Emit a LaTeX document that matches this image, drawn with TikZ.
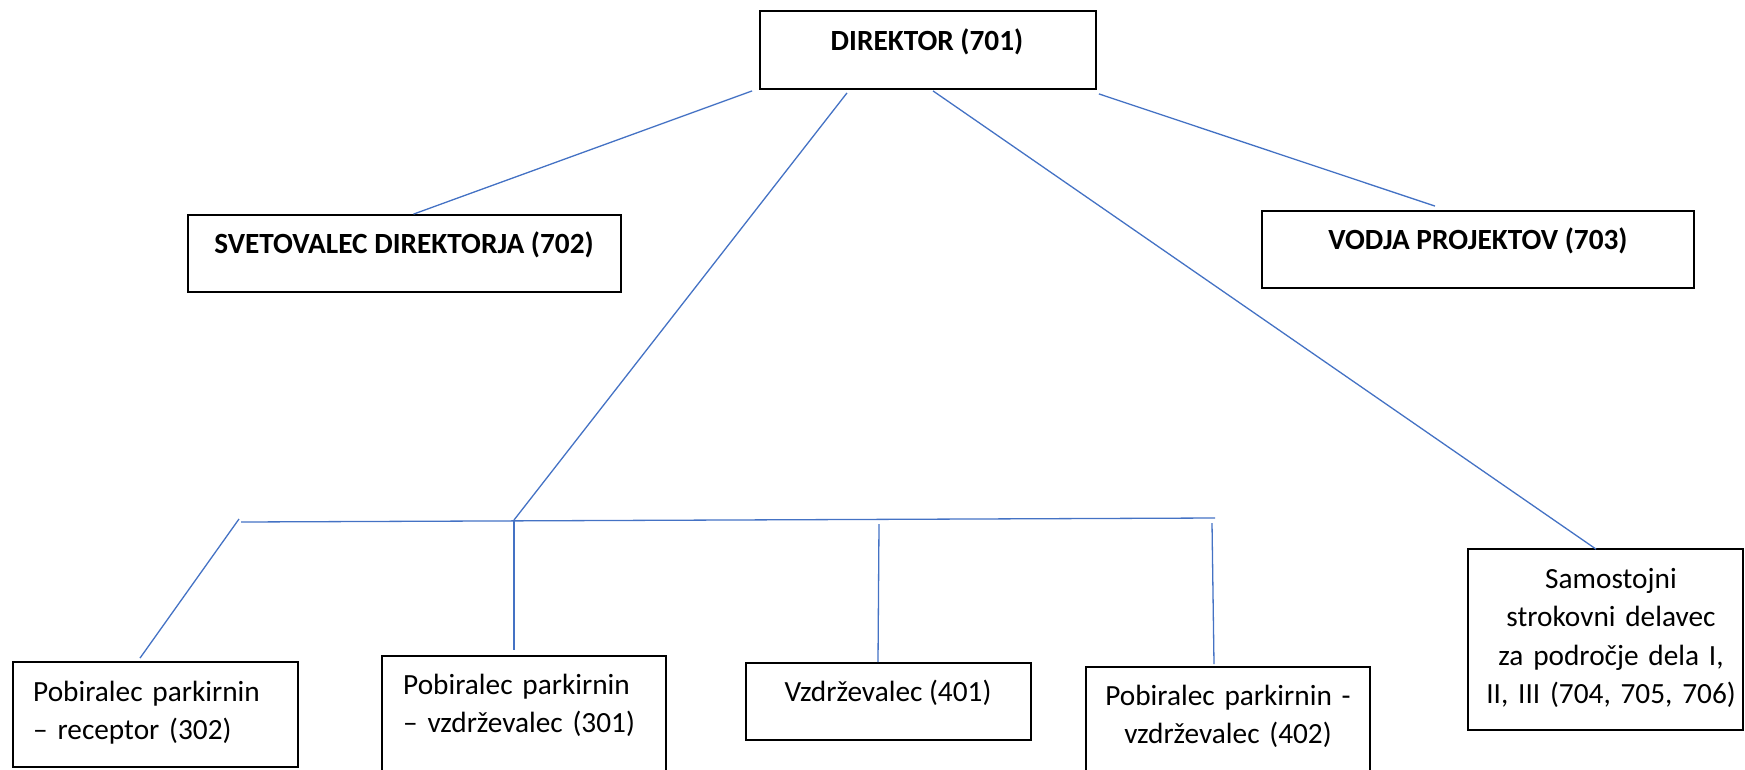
\documentclass[tikz,border=0pt]{standalone}
\usepackage{fontspec}
\setmainfont{Carlito}
\usetikzlibrary{calc}
\definecolor{lineblue}{HTML}{4472C4}
\begin{document}
\frenchspacing
\begin{tikzpicture}[x=1pt,y=-1pt,
  box/.style={draw=black, line width=1.8pt, inner sep=0pt, rectangle},
  conn/.style={draw=lineblue, line width=1.3pt},
  txt/.style={inner sep=0pt, font=\fontsize{29.3}{38.6}\selectfont\frenchspacing},
  btxt/.style={inner sep=0pt, font=\fontsize{29.3}{38.6}\selectfont\bfseries}]
\useasboundingbox (0,0) rectangle (1745,769);
\clip (0,0) rectangle (1745,769);
% boxes
\node[box, minimum width=336pt, minimum height=78pt] (dir) at (928,50) {};
\node[box, minimum width=433pt, minimum height=77pt] (svet) at (404.5,253.5) {};
\node[box, minimum width=432pt, minimum height=77pt] (vodja) at (1478,249.5) {};
\node[box, minimum width=285pt, minimum height=105pt] (b302) at (155.5,714.5) {};
\node[box, minimum width=284pt, minimum height=134pt] (b301) at (524,723) {};
\node[box, minimum width=285pt, minimum height=77pt] (b401) at (888.5,701.5) {};
\node[box, minimum width=284pt, minimum height=123pt] (b402) at (1228,728.5) {};
\node[box, minimum width=275pt, minimum height=181pt] (sam) at (1605.5,639.5) {};
% texts
\node[btxt, anchor=base] (tdir) at (927,50) {DIREKTOR (701)};
\node[btxt, anchor=base] (tsvet) at (404,253) {SVETOVALEC DIREKTORJA (702)};
\node[btxt, anchor=base] (tvodja) at (1478,249) {VODJA PROJEKTOV (703)};
\node[txt, anchor=base west, text width=262pt, align=left] (t302) at (33,701) {Pobiralec parkirnin\\– receptor (302)};
\node[txt, anchor=base west, text width=262pt, align=left] (t301) at (403,694) {Pobiralec parkirnin\\– vzdrževalec (301)};
\node[txt, anchor=base] (t401) at (888,701) {Vzdrževalec (401)};
\node[txt, anchor=base, text width=270pt, align=center] (t402) at (1228,705) {Pobiralec parkirnin -\\vzdrževalec (402)};
\node[txt, anchor=base, text width=270pt, align=center] (tsam) at (1611,588) {Samostojni\\strokovni delavec\\za področje dela I,\\II, III (704, 705, 706)};
% junction coordinates
\coordinate (hl) at (241,522);
\coordinate (hr) at (1215,518);
\coordinate (j) at (514,520);
\coordinate (jl) at (239,519);
\coordinate (j401) at (879,524);
\coordinate (j402) at (1212,523);
% connectors
\draw[conn] ([xshift=-7pt,yshift=-1pt]dir.south west) -- ([xshift=9pt]svet.north);
\draw[conn] ([xshift=-81pt,yshift=-3pt]dir.south) -- (j);
\draw[conn] ([xshift=5pt,yshift=-1pt]dir.south) -- ([xshift=-9.5pt,yshift=-1pt]sam.north);
\draw[conn] ([xshift=2pt,yshift=-4pt]dir.south east) -- ([xshift=-43pt,yshift=4pt]vodja.north);
\draw[conn] (hl) -- (hr);
\draw[conn] (jl) -- ([xshift=-15.5pt,yshift=3pt]b302.north);
\draw[conn] (j) -- ([xshift=-10pt,yshift=5pt]b301.north);
\draw[conn] (j401) -- ([xshift=-10.5pt]b401.north);
\draw[conn] (j402) -- ([xshift=-14pt,yshift=2pt]b402.north);
\end{tikzpicture}
\end{document}
